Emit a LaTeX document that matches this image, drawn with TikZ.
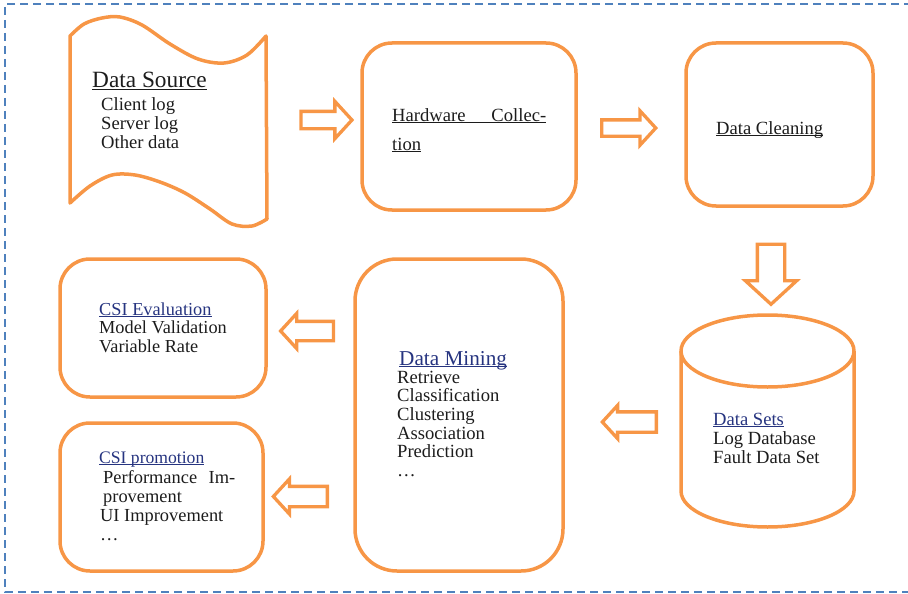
\documentclass[tikz,border=0pt]{standalone}
\usepackage{fontspec}
\setmainfont{Liberation Serif}
\usetikzlibrary{shapes.arrows}
\definecolor{accent}{HTML}{F79646}
\definecolor{frameblue}{HTML}{4F81BD}
\definecolor{linkblue}{RGB}{38,52,128}
\definecolor{ink}{HTML}{1C1C1C}
% underline set at a fixed depth below the baseline
\newcommand\ulined[1]{\setbox0\hbox{#1}\rlap{\rule[-2.2pt]{\wd0}{0.8pt}}\box0}
\newcommand\linkhead[1]{\textcolor{linkblue}{\ulined{#1}}}
\begin{document}
\begin{tikzpicture}[x=1pt,y=-1pt,
  box/.style={draw=accent, line width=3.5pt, rounded corners=30pt, inner sep=0pt},
  blockarrow/.style={single arrow, draw=accent, line width=3.3pt, fill=white,
    minimum width=0pt, single arrow tip angle=95, single arrow head indent=0pt},
  % multi-line texts are placed by the baseline of their last line
  txt/.style={anchor=base west, inner sep=0pt, align=left,
    font=\fontsize{18.6}{19}\selectfont, text=ink},
  outline/.style={draw=accent, line width=3.5pt, line join=round},
]
\useasboundingbox (0,0) rectangle (908,594);

% dashed frame, open on the right
\draw[frameblue, line width=1.5pt, dash pattern=on 8pt off 5pt]
  (912,4) -- (5,4) -- (5,592) -- (912,592);

% data source: punched tape outline
\draw[outline]
  plot[smooth, tension=0.55] coordinates {(70,36) (84,24) (102,18) (120,17) (142,25)
    (170,44) (198,59) (224,63) (247,55) (266,36)}
  -- plot[smooth, tension=0.55] coordinates {(267,219) (252,226) (232,224) (210,209)
    (185,193) (160,182) (135,175) (112,175) (90,186) (70,203)}
  -- cycle;
\node[txt, font=\fontsize{23.3}{25}\selectfont] (srcHead) at (92,88) {\ulined{Data Source}};
\node[txt] (srcBody) at (101,148) {Client log\\Server log\\Other data};

% processing boxes
\node[box, minimum width=214pt, minimum height=167pt] (hw) at (469,126.5) {};
\node[txt, font=\fontsize{18.6}{29}\selectfont] (hwText) at (392,150)
  {\ulined{\makebox[154pt][s]{Hardware Collec-}}\\\ulined{tion}};

\node[box, minimum width=187pt, minimum height=163pt] (clean) at (779.5,124.5) {};
\node[txt] (cleanText) at (716,134) {\ulined{Data Cleaning}};

% data sets cylinder
\coordinate (dsTop) at (767.5,351);
\coordinate (dsBot) at (767.5,491);
\draw[outline] (681,351) -- (681,491)
  arc[start angle=180, end angle=360, x radius=86.5pt, y radius=36pt] -- (854,351);
\draw[outline] (dsTop) ellipse [x radius=86.5pt, y radius=36pt];
\node[txt] (dsText) at (713,463) {\linkhead{Data Sets}\\Log Database\\Fault Data Set};

% data mining
\node[box, rounded corners=42pt, minimum width=208pt, minimum height=312pt] (mining) at (459,415) {};
\node[txt, font=\fontsize{21.2}{23}\selectfont] (miningHead) at (399,365) {\linkhead{Data Mining}};
\node[txt, font=\fontsize{18.6}{18.7}\selectfont] (miningBody) at (397,476.5)
  {Retrieve\\Classification\\Clustering\\Association\\Prediction\\\ldots};

% CSI boxes
\node[box, minimum width=206pt, minimum height=138pt] (eval) at (163,328) {};
\node[txt, font=\fontsize{18.3}{18.5}\selectfont] (evalText) at (99,352)
  {\linkhead{CSI Evaluation}\\Model Validation\\Variable Rate};

\node[box, minimum width=203pt, minimum height=148pt] (promo) at (161.5,497) {};
\node[txt, font=\fontsize{17.6}{19}\selectfont] (promoHead) at (99,463) {\linkhead{CSI promotion}};
\node[txt, font=\fontsize{18.4}{19.2}\selectfont] (promoBody) at (100,540.6)
  {\hspace*{3pt}\makebox[132pt][s]{Performance Im-}\\\hspace*{3pt}provement\\UI Improvement\\\ldots};

% block arrows between the stages
\node[blockarrow, inner sep=7pt, minimum height=51pt, single arrow head extend=10pt] (a1) at (322.5,120) {};
\node[blockarrow, inner sep=6.5pt, minimum height=54pt, single arrow head extend=9pt] (a2) at (625,128) {};
\node[blockarrow, shape border rotate=270, inner sep=12pt, minimum height=60pt, single arrow head extend=12pt] (a3) at (771,268) {};
\node[blockarrow, shape border rotate=180, inner sep=8.5pt, minimum height=54pt, single arrow head extend=6.5pt] (a6) at (634,422) {};
\node[blockarrow, shape border rotate=180, inner sep=8pt, minimum height=53pt, single arrow head extend=8pt] (a4) at (311.5,331) {};
\node[blockarrow, shape border rotate=180, inner sep=8.5pt, minimum height=54pt, single arrow head extend=7.5pt] (a5) at (305,496.5) {};
\end{tikzpicture}
\end{document}
